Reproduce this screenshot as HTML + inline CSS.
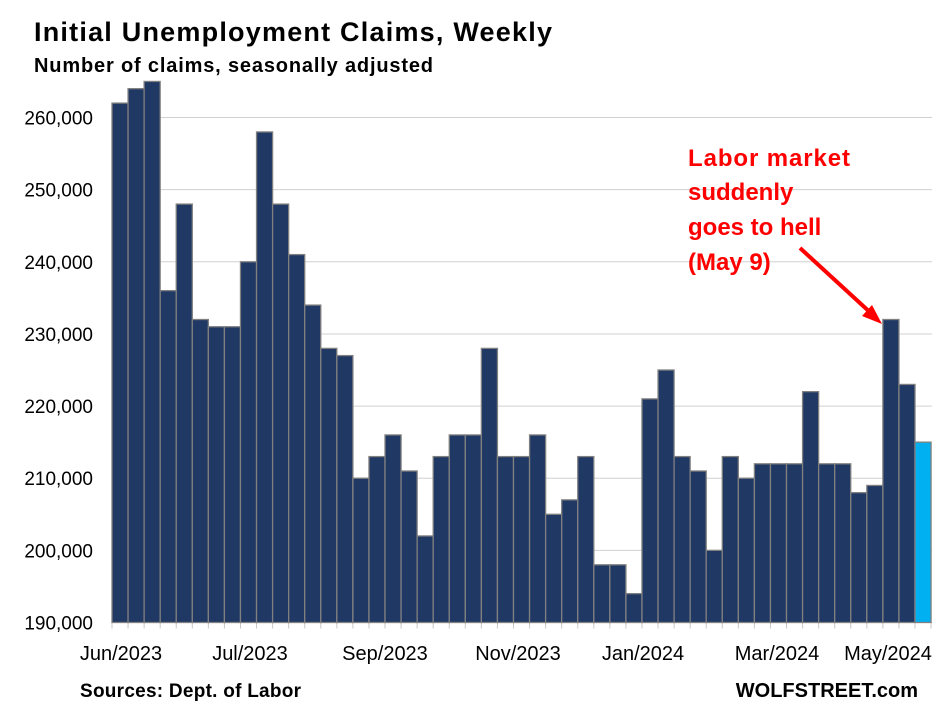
<!DOCTYPE html>
<html><head><meta charset="utf-8"><style>
body{margin:0;background:#fff;}
svg{display:block;font-family:"Liberation Sans",Arial,sans-serif;}
</style></head><body>
<svg id="c" width="943" height="715" xmlns="http://www.w3.org/2000/svg">
<text x="34" y="41" font-size="27" font-weight="bold" fill="#000" textLength="518">Initial Unemployment Claims, Weekly</text>
<text x="34" y="72" font-size="20" font-weight="bold" fill="#000" textLength="399">Number of claims, seasonally adjusted</text>
<text x="80" y="697" font-size="19" font-weight="bold" fill="#000" textLength="221">Sources: Dept. of Labor</text>
<text x="918" y="697" font-size="20" font-weight="bold" fill="#000" text-anchor="end">WOLFSTREET.com</text>
<g font-size="24" font-weight="bold" fill="#ff0000">
<text x="688" y="166" textLength="162">Labor market</text>
<text x="688" y="200">suddenly</text>
<text x="688" y="235">goes to hell</text>
<text x="688" y="270">(May 9)</text>
</g>
<line x1="800" y1="248" x2="873" y2="315" stroke="#ff0000" stroke-width="4"/>
<polygon points="882,324 862,316 872,305" fill="#ff0000"/>
</svg>
<script>
var s=document.getElementById('c'),ns='http://www.w3.org/2000/svg';
function el(t,a,txt){var e=document.createElementNS(ns,t);for(var k in a)e.setAttribute(k,a[k]);if(txt)e.textContent=txt;s.insertBefore(e,s.firstChild);return e;}
var v=[262,264,265,236,248,232,231,231,240,258,248,241,234,228,227,210,213,216,211,202,213,216,216,228,213,213,216,205,207,213,198,198,194,221,225,213,211,200,213,210,212,212,212,222,212,212,208,209,232,223,215];
var x0=112,w=16.06,y0=622.5,k=72.14;
var g=document.createElementNS(ns,'g');s.appendChild(g);
v.forEach(function(d,i){var r=document.createElementNS(ns,'rect');var h=(d-190)*k/10;
r.setAttribute('x',x0+i*w);r.setAttribute('y',y0-h);r.setAttribute('width',w);r.setAttribute('height',h);
r.setAttribute('fill',i==50?'#00b0f0':'#203864');r.setAttribute('stroke','#808080');r.setAttribute('stroke-width','1.3');g.appendChild(r);});
for(var j=0;j<=7;j++){var y=y0-j*k;
el('line',{x1:x0,x2:932,y1:y,y2:y,stroke:'#d0d0d0','stroke-width':1});
el('text',{x:93,y:y+7,'font-size':19,'text-anchor':'end',fill:'#000'},(190+j*10)+',000');}
for(var i=0;i<=51;i++){el('line',{x1:x0+i*w,x2:x0+i*w,y1:y0,y2:y0+6,stroke:'#c8c8c8','stroke-width':1});}
var L=[['Jun/2023',121],['Jul/2023',250],['Sep/2023',385],['Nov/2023',518],['Jan/2024',643],['Mar/2024',777],['May/2024',888]];
L.forEach(function(l){el('text',{x:l[1],y:660,'font-size':20,'text-anchor':'middle',fill:'#000'},l[0]);});
</script>
</body></html>
